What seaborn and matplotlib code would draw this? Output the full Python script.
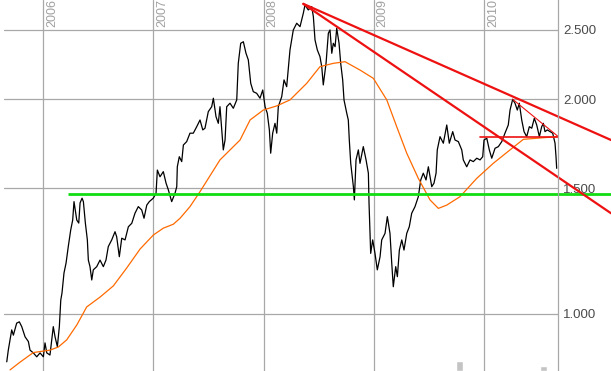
import seaborn as sns
import matplotlib.pyplot as plt
from matplotlib.ticker import NullLocator
import matplotlib.transforms as mtransforms

# price (time in decimal years, value)
price_t = [2005.671, 2005.685, 2005.716, 2005.731, 2005.761, 2005.785, 2005.807, 2005.837, 2005.867, 2005.882,
           2005.912, 2005.943, 2005.973, 2006.003, 2006.018, 2006.034, 2006.063, 2006.093, 2006.109, 2006.130,
           2006.148, 2006.161, 2006.172, 2006.190, 2006.209, 2006.229, 2006.251, 2006.269, 2006.281, 2006.306,
           2006.324, 2006.336, 2006.354, 2006.366, 2006.384, 2006.402, 2006.411, 2006.426, 2006.442, 2006.456,
           2006.487, 2006.517, 2006.547, 2006.571, 2006.592, 2006.623, 2006.653, 2006.668, 2006.692, 2006.714,
           2006.744, 2006.774, 2006.805, 2006.834, 2006.864, 2006.895, 2006.916, 2006.941, 2006.964, 2007.000,
           2007.025, 2007.037, 2007.061, 2007.091, 2007.116, 2007.137, 2007.167, 2007.197, 2007.213, 2007.218,
           2007.236, 2007.258, 2007.273, 2007.303, 2007.333, 2007.363, 2007.394, 2007.424, 2007.449, 2007.469,
           2007.499, 2007.530, 2007.545, 2007.569, 2007.590, 2007.605, 2007.621, 2007.635, 2007.651, 2007.666,
           2007.696, 2007.726, 2007.757, 2007.771, 2007.793, 2007.817, 2007.841, 2007.862, 2007.884, 2007.907,
           2007.938, 2007.968, 2007.993, 2008.014, 2008.034, 2008.053, 2008.065, 2008.083, 2008.104, 2008.120,
           2008.134, 2008.165, 2008.186, 2008.210, 2008.240, 2008.270, 2008.301, 2008.331, 2008.361, 2008.376,
           2008.406, 2008.437, 2008.452, 2008.467, 2008.488, 2008.512, 2008.528, 2008.542, 2008.567, 2008.588,
           2008.603, 2008.619, 2008.633, 2008.649, 2008.664, 2008.685, 2008.700, 2008.718, 2008.730, 2008.755,
           2008.769, 2008.778, 2008.791, 2008.815, 2008.824, 2008.839, 2008.860, 2008.875, 2008.905, 2008.930,
           2008.951, 2008.957, 2008.972, 2008.990, 2009.011, 2009.032, 2009.057, 2009.072, 2009.102, 2009.123,
           2009.147, 2009.163, 2009.177, 2009.199, 2009.214, 2009.232, 2009.254, 2009.274, 2009.299, 2009.322,
           2009.344, 2009.374, 2009.404, 2009.426, 2009.449, 2009.474, 2009.495, 2009.526, 2009.546, 2009.565,
           2009.576, 2009.601, 2009.631, 2009.662, 2009.685, 2009.716, 2009.737, 2009.767, 2009.798, 2009.812,
           2009.843, 2009.873, 2009.903, 2009.934, 2009.964, 2009.988, 2010.000, 2010.025, 2010.048, 2010.070,
           2010.100, 2010.130, 2010.161, 2010.190, 2010.220, 2010.236, 2010.260, 2010.281, 2010.302, 2010.320,
           2010.342, 2010.363, 2010.387, 2010.411, 2010.433, 2010.456, 2010.478, 2010.502, 2010.523, 2010.538,
           2010.553, 2010.574, 2010.599, 2010.623, 2010.644, 2010.653, 2010.659]
price_v = [857, 890, 950, 934, 971, 975, 960, 929, 915, 890,
           882, 871, 882, 871, 911, 882, 876, 960, 929, 900,
           960, 1046, 1070, 1141, 1179, 1243, 1311, 1354, 1437, 1354,
           1341, 1431, 1453, 1437, 1341, 1270, 1190, 1165, 1116, 1153,
           1165, 1190, 1165, 1190, 1243, 1270, 1304, 1283, 1203, 1277,
           1270, 1325, 1340, 1384, 1414, 1399, 1362, 1421, 1437, 1453,
           1476, 1591, 1557, 1583, 1525, 1492, 1437, 1476, 1508, 1608,
           1661, 1635, 1725, 1744, 1792, 1792, 1830, 1870, 1811, 1821,
           1921, 1952, 2006, 1890, 1850, 1952, 1811, 1698, 1753, 1952,
           1974, 1942, 1995, 2245, 2395, 2407, 2319, 2270, 2105, 2049,
           2038, 2006, 2060, 1952, 1911, 1811, 1680, 1792, 1850, 1792,
           1952, 2016, 2128, 2082, 2344, 2500, 2555, 2527, 2639, 2710,
           2667, 2696, 2610, 2421, 2344, 2294, 2221, 2094, 2245, 2474,
           2500, 2319, 2395, 2369, 2514, 2395, 2245, 2128, 1995, 1911,
           1870, 1753, 1626, 1508, 1445, 1644, 1698, 1626, 1716, 1644,
           1575, 1429, 1216, 1270, 1216, 1153, 1203, 1270, 1297, 1369,
           1297, 1178, 1092, 1165, 1128, 1229, 1270, 1229, 1297, 1325,
           1384, 1414, 1460, 1541, 1575, 1541, 1608, 1508, 1525, 1575,
           1698, 1772, 1735, 1840, 1735, 1801, 1753, 1744, 1698, 1644,
           1608, 1644, 1635, 1653, 1644, 1661, 1753, 1763, 1698, 1653,
           1707, 1716, 1744, 1792, 1840, 1931, 1999, 1974, 1931, 1974,
           1870, 1801, 1772, 1830, 1821, 1880, 1840, 1772, 1830, 1850,
           1801, 1811, 1801, 1792, 1735, 1661, 1600]

# moving average
avg_t = [2005.701, 2005.791, 2005.912, 2006.063, 2006.139, 2006.215, 2006.306, 2006.396, 2006.517, 2006.638,
         2006.759, 2006.880, 2007.000, 2007.091, 2007.182, 2007.243, 2007.333, 2007.424, 2007.605, 2007.787,
         2007.878, 2007.998, 2008.120, 2008.240, 2008.392, 2008.512, 2008.633, 2008.739, 2008.875, 2008.996,
         2009.118, 2009.208, 2009.299, 2009.404, 2009.510, 2009.586, 2009.662, 2009.782, 2009.934, 2010.084,
         2010.236, 2010.357, 2010.478, 2010.659]
avg_v = [835, 856, 883, 890, 899, 920, 965, 1023, 1056, 1095,
         1160, 1233, 1290, 1319, 1336, 1362, 1414, 1484, 1644, 1753,
         1870, 1931, 1957, 1995, 2105, 2221, 2245, 2257, 2197, 2139,
         1995, 1830, 1680, 1549, 1445, 1406, 1421, 1460, 1549, 1626,
         1698, 1757, 1763, 1772]

# drawn lines
trend_upper_t = [2008.361, 2011.152]
trend_upper_v = [2720, 1753]
trend_lower_t = [2008.361, 2011.152]
trend_lower_v = [2720, 1384]
trend_short_t = [2010.260, 2010.674]
trend_short_v = [1999, 1772]
level_t = [2009.964, 2010.674]
level_v = [1768, 1768]
support_t = [2006.227, 2011.152]
support_v = [1472, 1472]

volume_t = [2009.778, 2010.540]
volume_v = [10, 5]

years = [2006, 2007, 2008, 2009, 2010]
y_ticks = [1000, 1500, 2000, 2500]
y_labels = ['1.000', '1.500', '2.000', '2.500']

sns.set_style("white")
plt.rcParams['font.family'] = ['Liberation Sans', 'DejaVu Sans']

fig = plt.figure(figsize=(6.11, 3.71), dpi=100)
ax = fig.add_axes([4 / 611, 0, 554 / 611, 1])
vol_ax = ax.twinx()

ax.set_yscale('log')
ax.set_xlim(2005.646, 2010.671)
ax.set_ylim(832, 2754)

# volume bars at the bottom
vol_ax.bar(volume_t, volume_v, width=0.064, color='#c4c4c4')
vol_ax.set_ylim(0, 371)
vol_ax.set_yticks([])
for s in vol_ax.spines.values():
    s.set_visible(False)

sns.lineplot(x=price_t, y=price_v, color='black', lw=0.9, ax=ax, estimator=None, sort=False)
sns.lineplot(x=avg_t, y=avg_v, color='#ff6a00', lw=0.9, ax=ax, estimator=None, sort=False)

ax.plot(support_t, support_v, color='#11dd11', lw=2.0, clip_on=False, solid_capstyle='butt')
ax.plot(trend_upper_t, trend_upper_v, color='#ee1111', lw=1.6, clip_on=False)
ax.plot(trend_lower_t, trend_lower_v, color='#ee1111', lw=1.6, clip_on=False)
ax.plot(trend_short_t, trend_short_v, color='#ee1111', lw=0.8, clip_on=False)
ax.plot(level_t, level_v, color='#ee1111', lw=1.2, clip_on=False)

# axes styling
ax.set_xticks(years)
ax.set_xticklabels([])
ax.tick_params(axis='x', length=0)
ax.yaxis.set_minor_locator(NullLocator())
ax.set_yticks(y_ticks)
ax.set_yticklabels(y_labels)
ax.yaxis.tick_right()
ax.tick_params(axis='y', length=0, pad=3.6, labelsize=9.5, labelcolor='#4a4a4a')
ax.grid(True, color='#a8a8a8', lw=0.9)
ax.set_axisbelow(True)
for side in ['left', 'top', 'bottom']:
    ax.spines[side].set_visible(False)
ax.spines['right'].set_color('#a8a8a8')
ax.spines['right'].set_linewidth(0.9)

# year labels inside the top of the plot
trans = mtransforms.blended_transform_factory(ax.transData, ax.transAxes)
for yr in years:
    ax.text(yr + 0.027, 1 - 26.7 / 371, str(yr), transform=trans, rotation=90,
            ha='left', va='bottom', color='#a0a0a0', fontsize=9)

fig.savefig('out.png', dpi=100, facecolor='white')
